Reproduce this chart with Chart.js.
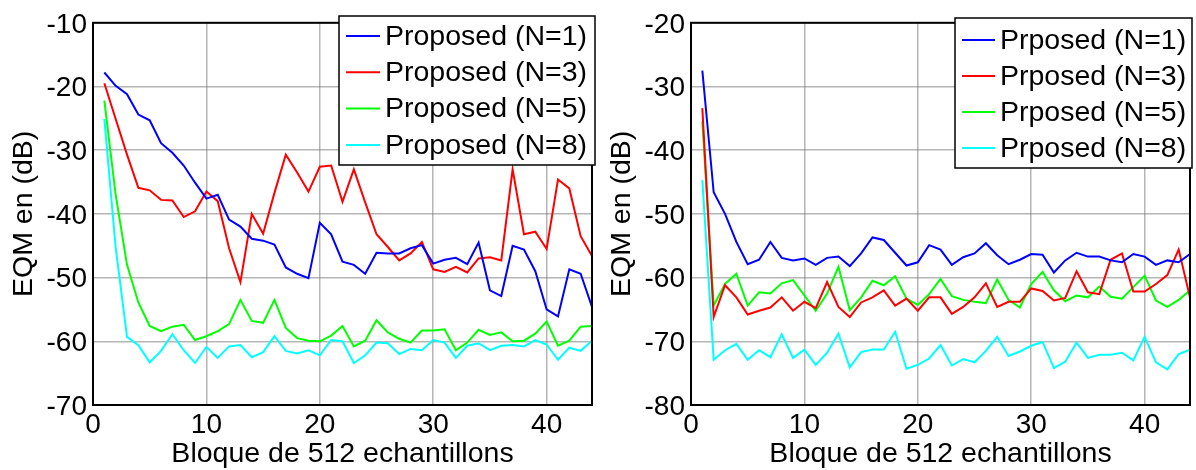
<!DOCTYPE html>
<html>
<head>
<meta charset="utf-8">
<script src="https://cdn.jsdelivr.net/npm/chart.js@4/dist/chart.umd.min.js"></script>
<style>
  body { margin: 0; background: #fff; }
  #graficos { position: relative; width: 1196px; height: 470px; }
  #graficos canvas { position: absolute; top: 0; }
</style>
</head>
<body>
<div id="graficos">
  <canvas id="canvas_chart_1" width="598" height="470" style="left:0px"></canvas>
  <canvas id="canvas_chart_2" width="598" height="470" style="left:598px"></canvas>
</div>
<script>
//Índice dos blocos (eixo x)
var blocos = [1, 2, 3, 4, 5, 6, 7, 8, 9, 10, 11, 12, 13, 14, 15, 16, 17, 18, 19, 20, 21, 22,
  23, 24, 25, 26, 27, 28, 29, 30, 31, 32, 33, 34, 35, 36, 37, 38, 39, 40, 41, 42, 43, 44];

//Gráfico 1 - EQM (dB) por bloco
var eqm1_n1 = [-17.8, -19.9, -21.2, -24.4, -25.3, -28.9, -30.4, -32.4, -35.1, -37.6, -37.0, -40.9,
  -42.0, -43.9, -44.2, -44.8, -48.4, -49.4, -50.1, -41.4, -43.2, -47.5, -48.0, -49.4, -46.1, -46.2,
  -46.2, -45.4, -44.9, -47.8, -47.2, -46.9, -47.9, -44.5, -52.0, -52.9, -45.0, -45.6, -49.0, -55.0,
  -56.1, -48.7, -49.4, -54.6];
var eqm1_n3 = [-19.5, -25.1, -30.7, -35.9, -36.3, -37.8, -37.9, -40.5, -39.6, -36.5, -38.0, -45.4,
  -50.7, -40.0, -43.1, -36.7, -30.7, -33.5, -36.5, -32.6, -32.4, -38.1, -33.0, -38.2, -43.2, -45.2,
  -47.3, -46.2, -44.4, -48.7, -49.1, -48.3, -49.2, -47.0, -46.8, -47.3, -33.0, -43.2, -42.8, -45.5,
  -34.6, -36.0, -43.5, -46.6];
var eqm1_n5 = [-22.2, -37.0, -48.0, -53.9, -57.6, -58.4, -57.7, -57.4, -59.8, -59.2, -58.4, -57.3,
  -53.5, -56.8, -57.1, -53.5, -57.9, -59.5, -59.9, -60.0, -59.1, -57.6, -60.8, -59.9, -56.7, -58.6,
  -59.6, -60.2, -58.3, -58.3, -58.1, -61.4, -60.2, -58.2, -59.0, -58.6, -60.0, -59.9, -58.8, -56.9,
  -60.7, -59.9, -57.7, -57.6];
var eqm1_n8 = [-25.1, -45.3, -59.3, -60.6, -63.3, -61.5, -58.9, -61.4, -63.4, -60.9, -62.6, -60.8,
  -60.6, -62.5, -61.7, -59.2, -61.5, -61.9, -61.4, -62.2, -59.8, -60.0, -63.4, -62.2, -60.2, -60.3,
  -62.0, -61.2, -61.4, -59.8, -60.2, -62.6, -60.7, -60.3, -61.4, -60.7, -60.6, -60.8, -59.8, -60.5,
  -62.9, -61.0, -61.5, -59.9];

//Gráfico 2 - EQM (dB) por bloco
var eqm2_n1 = [-27.5, -46.6, -50.0, -54.4, -57.9, -57.2, -54.4, -56.9, -57.3, -57.0, -58.0, -56.9,
  -56.7, -58.2, -56.2, -53.7, -54.1, -56.1, -58.1, -57.6, -54.9, -55.6, -58.0, -56.8, -56.2, -54.6,
  -56.5, -57.9, -57.2, -56.3, -56.4, -59.2, -57.3, -56.1, -56.7, -56.7, -57.3, -57.6, -56.3, -56.7,
  -58.0, -57.3, -57.6, -56.3];
var eqm2_n3 = [-33.4, -66.2, -61.2, -63.1, -65.8, -65.2, -64.7, -63.1, -65.2, -63.8, -64.8, -60.7,
  -64.6, -66.2, -63.9, -63.1, -62.0, -64.4, -63.3, -65.2, -63.1, -63.1, -65.7, -64.6, -63.1, -60.9,
  -64.6, -63.8, -63.8, -61.7, -62.1, -63.6, -63.2, -59.0, -62.3, -62.6, -57.2, -56.2, -62.2, -62.2,
  -61.0, -59.6, -55.6, -63.1];
var eqm2_n5 = [-35.5, -64.4, -61.0, -59.4, -64.4, -62.3, -62.5, -60.9, -60.4, -62.8, -65.2, -62.5,
  -58.3, -65.1, -63.1, -60.5, -61.2, -59.8, -63.3, -64.3, -62.6, -60.2, -62.9, -63.5, -63.8, -64.0,
  -60.3, -63.5, -64.7, -61.0, -59.1, -62.0, -63.7, -62.8, -63.1, -61.4, -63.0, -63.3, -61.5, -59.7,
  -63.6, -64.6, -63.5, -62.0];
var eqm2_n8 = [-44.7, -72.9, -71.4, -70.4, -72.9, -71.4, -72.5, -68.9, -72.6, -71.3, -73.7, -71.8,
  -68.8, -74.1, -71.7, -71.3, -71.3, -68.5, -74.3, -73.7, -72.7, -70.6, -73.8, -72.8, -73.3, -71.5,
  -69.3, -72.3, -71.6, -70.7, -70.1, -74.2, -73.2, -70.2, -72.6, -72.1, -72.1, -71.8, -73.0, -69.3,
  -73.3, -74.4, -72.0, -71.3];

var legendas_1 = ['Proposed (N=1)', 'Proposed (N=3)', 'Proposed (N=5)', 'Proposed (N=8)'];
var legendas_2 = ['Prposed (N=1)', 'Prposed (N=3)', 'Prposed (N=5)', 'Prposed (N=8)'];
var cores = ['#0000ff', '#ff0000', '#00ff00', '#00ffff'];

const familia = "'Liberation Sans', Arial, sans-serif";
const fonte = { family: familia, size: 28 };
const fonteTitulo = { family: familia, size: 28.5 };
const corGrade = 'rgba(120, 120, 120, 0.55)';

//Junta x e y em pontos para a escala linear
function pontos(valores) {
  return valores.map(function (v, i) { return { x: blocos[i], y: v }; });
}

function montarDatasets(series, legendas) {
  return series.map(function (serie, i) {
    return {
      label: legendas[i],
      data: pontos(serie),
      borderColor: cores[i],
      backgroundColor: cores[i],
      borderWidth: 2,
      pointRadius: 0,
      tension: 0,
      fill: false
    };
  });
}

function montarEscalas(yMin, yMax) {
  return {
    x: {
      type: 'linear',
      min: 0,
      max: 44,
      afterFit: function (escala) { escala.height = 65; },
      ticks: { stepSize: 10, includeBounds: false, maxRotation: 0, autoSkip: false, padding: 3, color: '#000', font: fonte },
      grid: { color: corGrade, lineWidth: 1.5, drawTicks: false },
      border: { display: false },
      title: { display: true, text: 'Bloque de 512 echantillons', color: '#000',
        font: { family: familia, size: 28.5, lineHeight: 1 }, padding: { top: 0, bottom: 2 } }
    },
    y: {
      type: 'linear',
      min: yMin,
      max: yMax,
      afterFit: function (escala) { escala.width = 93; },
      ticks: { stepSize: 10, padding: 6, labelOffset: 2, color: '#000', font: fonte },
      grid: { color: corGrade, lineWidth: 1.5, drawTicks: false },
      border: { display: false },
      title: { display: true, text: 'EQM en (dB)', color: '#000', font: fonteTitulo, padding: { top: 7, bottom: 0 } }
    }
  };
}

//Moldura preta do eixo e legenda dentro do gráfico
const molduraLegenda = {
  id: 'molduraLegenda',
  afterDraw: function (chart, args, opts) {
    const ctx = chart.ctx;
    const area = chart.chartArea;
    ctx.save();
    ctx.strokeStyle = '#000';
    ctx.lineWidth = 2;
    ctx.strokeRect(area.left, area.top, area.right - area.left, area.bottom - area.top);

    const caixa = opts.caixa;
    ctx.fillStyle = '#fff';
    ctx.fillRect(caixa.x, caixa.y, caixa.w, caixa.h);
    ctx.lineWidth = 1.5;
    ctx.strokeRect(caixa.x, caixa.y, caixa.w, caixa.h);

    ctx.font = fonteTitulo.size + 'px ' + familia;
    ctx.textBaseline = 'middle';
    ctx.textAlign = 'left';
    chart.data.datasets.forEach(function (ds, i) {
      const yLinha = caixa.linha0 + i * caixa.passo;
      ctx.strokeStyle = ds.borderColor;
      ctx.lineWidth = 2;
      ctx.beginPath();
      ctx.moveTo(caixa.amostraX0, yLinha);
      ctx.lineTo(caixa.amostraX1, yLinha);
      ctx.stroke();
      ctx.fillStyle = '#000';
      ctx.fillText(ds.label, caixa.textoX, yLinha + 1);
    });
    ctx.restore();
  }
};

function criarGrafico(id, series, legendas, yMin, yMax, caixa) {
  return new Chart(document.getElementById(id), {
    type: 'line',
    data: { datasets: montarDatasets(series, legendas) },
    options: {
      responsive: false,
      animation: false,
      devicePixelRatio: 1,
      layout: { padding: { left: 0, right: 6, top: 18, bottom: 0 } },
      plugins: {
        legend: { display: false },
        tooltip: { enabled: false },
        molduraLegenda: { caixa: caixa }
      },
      scales: montarEscalas(yMin, yMax)
    },
    plugins: [molduraLegenda]
  });
}

const myChart = criarGrafico('canvas_chart_1', [eqm1_n1, eqm1_n3, eqm1_n5, eqm1_n8], legendas_1, -70, -10,
  { x: 339, y: 16, w: 256, h: 149, linha0: 36, passo: 36.3, amostraX0: 346, amostraX1: 380, textoX: 385 });

const myChart2 = criarGrafico('canvas_chart_2', [eqm2_n1, eqm2_n3, eqm2_n5, eqm2_n8], legendas_2, -80, -20,
  { x: 357, y: 18, w: 237, h: 150, linha0: 40, passo: 36, amostraX0: 364, amostraX1: 397, textoX: 402 });
</script>
</body>
</html>
